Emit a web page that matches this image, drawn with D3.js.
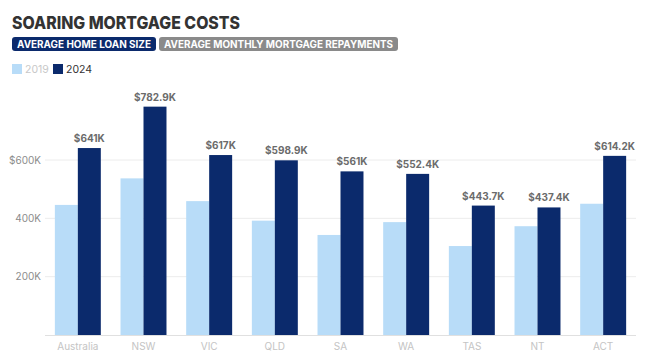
<!DOCTYPE html>
<html><head><meta charset="utf-8">
<script src="https://cdn.jsdelivr.net/npm/d3@7"></script>
<style>
body{margin:0;background:#fff;}
svg{display:block;font-family:"Open Sans",sans-serif;}
</style></head>
<body><svg id="c" width="650" height="359"></svg>
<script>
const categories = ["Australia","NSW","VIC","QLD","SA","WA","TAS","NT","ACT"];
const values2019 = [446, 537, 459, 392, 343, 387, 305, 373, 450];
const values2024 = [641, 782.9, 617, 598.9, 561, 552.4, 443.7, 437.4, 614.2];
const labels2024 = ["$641K","$782.9K","$617K","$598.9K","$561K","$552.4K","$443.7K","$437.4K","$614.2K"];
const yTicks = [200, 400, 600];
const yTickLabels = ["200K","400K","$600K"];
const seriesNames = ["2019","2024"];
const title = "SOARING MORTGAGE COSTS";
const tabs = ["AVERAGE HOME LOAN SIZE","AVERAGE MONTHLY MORTGAGE REPAYMENTS"];

const colLight = "#b8dcf8", colDark = "#0b2a6c";
const svg = d3.select("#c");
const m = {l:45, r:14, t:130, b:24};
const W = 650, H = 359;
const x = d3.scaleBand().domain(categories).range([m.l, W-m.r]).paddingInner(0.3).paddingOuter(0.15);
const y = d3.scaleLinear().domain([0, 600]).range([335, 160]);
const xs = d3.scaleBand().domain(seriesNames).range([0, x.bandwidth()]);

// title
svg.append("text").attr("x",12).attr("y",29).text(title)
  .attr("font-family","Inter, sans-serif").attr("font-weight",800).attr("font-size",17.5)
  .attr("fill","#333").attr("textLength",228).attr("lengthAdjust","spacingAndGlyphs");

// tabs
const tabDefs = [{x:12,w:144,fill:"#0b2a6c"},{x:159,w:239,fill:"#8a8a8a"}];
tabs.forEach((t,i)=>{
  const d = tabDefs[i];
  svg.append("rect").attr("x",d.x).attr("y",37).attr("width",d.w).attr("height",14).attr("rx",3).attr("fill",d.fill);
  svg.append("text").attr("x",d.x+d.w/2).attr("y",48).attr("text-anchor","middle")
    .attr("font-family","Inter, sans-serif").attr("font-weight",700).attr("font-size",10)
    .attr("fill","#fff").attr("textLength",d.w-10).attr("lengthAdjust","spacingAndGlyphs").text(t);
});

// legend
const legX = [12, 53];
seriesNames.forEach((s,i)=>{
  svg.append("rect").attr("x",legX[i]).attr("y",64).attr("width",10).attr("height",10).attr("fill", i?colDark:colLight);
  svg.append("text").attr("x",legX[i]+13).attr("y",73).attr("font-size",10.5)
    .attr("font-family","Inter, sans-serif").attr("fill", i?"#333":"#c8c8c8").text(s);
});

// grid
const yAxis = d3.axisLeft(y).tickValues(yTicks).tickFormat((d,i)=>yTickLabels[i]).tickSize(0);
const ga = svg.append("g").attr("transform",`translate(${m.l},0)`).call(yAxis);
ga.select(".domain").remove();
ga.selectAll("text").attr("x",-4).attr("fill","#8c8c8c").attr("font-size",10).attr("font-family","Inter, sans-serif");
svg.append("g").selectAll("line").data(yTicks).join("line")
  .attr("x1",m.l).attr("x2",W-m.r).attr("y1",d=>y(d)).attr("y2",d=>y(d))
  .attr("stroke","#ececec").attr("stroke-width",1);

// bars
const g = svg.append("g");
g.selectAll(".b19").data(categories).join("rect")
  .attr("x",c=>x(c)+xs("2019")).attr("width",xs.bandwidth())
  .attr("y",(c,i)=>y(values2019[i])).attr("height",(c,i)=>y(0)-y(values2019[i])).attr("fill",colLight);
g.selectAll(".b24").data(categories).join("rect")
  .attr("x",c=>x(c)+xs("2024")).attr("width",xs.bandwidth())
  .attr("y",(c,i)=>y(values2024[i])).attr("height",(c,i)=>y(0)-y(values2024[i])).attr("fill",colDark);
g.selectAll(".lab").data(categories).join("text")
  .attr("x",c=>x(c)+xs("2024")+xs.bandwidth()/2).attr("y",(c,i)=>y(values2024[i])-6)
  .attr("text-anchor","middle").attr("font-size",10).attr("font-weight",700)
  .attr("font-family","Inter, sans-serif").attr("fill","#6b6b6b").text((c,i)=>labels2024[i]);

// baseline
svg.append("line").attr("x1",m.l).attr("x2",W-m.r).attr("y1",y(0)+0.5).attr("y2",y(0)+0.5).attr("stroke","#e0e0e0");

// x axis
const xAxis = d3.axisBottom(x).tickSize(0);
const gx = svg.append("g").attr("transform",`translate(0,${y(0)})`).call(xAxis);
gx.select(".domain").remove();
gx.selectAll("text").attr("dy",0).attr("y",15).attr("fill","#c4c4c4").attr("font-size",10).attr("font-family","Inter, sans-serif");
</script></body></html>
